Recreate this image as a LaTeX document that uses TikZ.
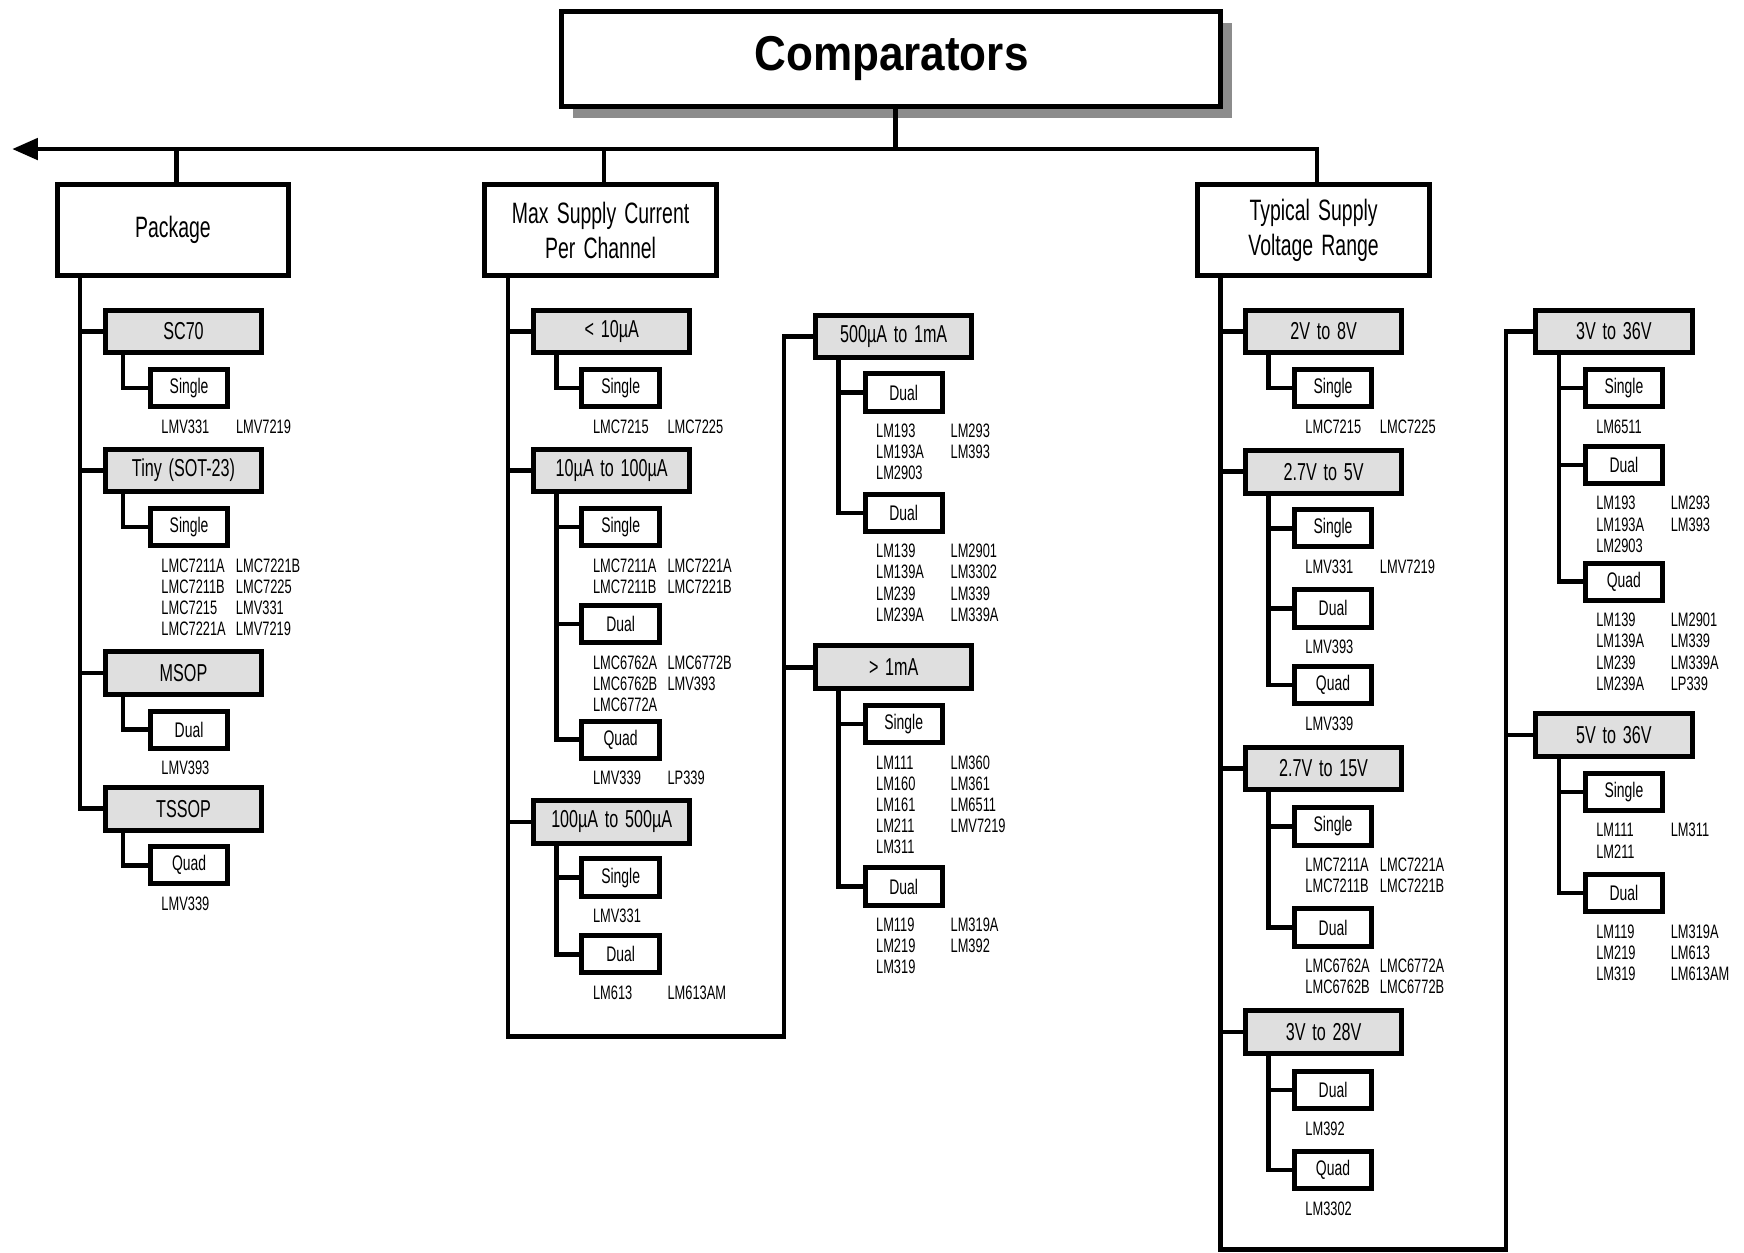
\documentclass[tikz,border=0pt]{standalone}
\usepackage{fontspec}
\setmainfont{Liberation Sans}[FakeStretch=0.66, WordSpace=1.5]
\newfontfamily\titlefont{Liberation Sans}[FakeStretch=0.9]
\usetikzlibrary{positioning}
\usetikzlibrary{shadows}
\usetikzlibrary{arrows.meta}

\newcommand{\partrows}[1]{\begin{tabular}{@{}p{67pt}@{}l@{}}#1\end{tabular}}

\tikzset{
  titlebox/.style={draw, line width=4.5pt, fill=white, minimum width=592.5pt, minimum height=85.5pt,
    drop shadow={shadow xshift=10pt, shadow yshift=-10pt, fill=black!45, opacity=1},
    font=\titlefont\bfseries\fontsize{44}{50}\selectfont},
  groupbox/.style={draw, line width=4.5pt, fill=white, minimum width=208.5pt, minimum height=81.5pt,
    align=center, font=\fontsize{26.5}{31}\selectfont},
  rangebox/.style={draw, line width=4.5pt, fill=gray!25, minimum width=140.5pt, minimum height=38.5pt,
    font=\fontsize{22}{24}\selectfont},
  kindbox/.style={draw, line width=4.5pt, fill=white, minimum width=69.5pt, minimum height=33.5pt,
    font=\fontsize{19}{22}\selectfont},
  partlist/.style={inner sep=0pt, font=\fontsize{17.5}{19}\selectfont},
  wire/.style={line width=4pt}
}

\begin{document}
\begin{tikzpicture}[x=1pt, y=-1pt]
  \useasboundingbox (0,0) rectangle (1568,1126);
  % Top
  \node[titlebox] (comp) at (801.5,53) {Comparators};
  \coordinate (bustip) at (11,134);
  \node[groupbox] (pkg) at (155.5,207) {Package};
  \node[groupbox] (maxcur) at (540,207) {Max Supply Current\\Per Channel};
  \node[groupbox] (typvolt) at (1181,207) {Typical Supply\\Voltage Range};
  \draw[wire, -{Triangle[length=23pt, width=19pt]}] ([xshift=3pt]typvolt.north) |- (bustip);
  \draw[wire] ([xshift=3.5pt]comp.south) -- ([xshift=3.5pt]comp.south |- bustip);
  \draw[wire] ([xshift=3pt]pkg.north) -- ([xshift=3pt]pkg.north |- bustip);
  \draw[wire] ([xshift=3pt]maxcur.north) -- ([xshift=3pt]maxcur.north |- bustip);

  % Package
  \node[rangebox] (sc70) at (165,298) {SC70};
  \node[kindbox] (sc70s) at (170,349) {Single};
  \node[partlist, below right=8pt and 12pt of sc70s.south west] (sc70p) {\partrows{LMV331 & LMV7219}};
  \node[rangebox] (tiny) at (165,423) {Tiny (SOT-23)};
  \node[kindbox] (tinys) at (170,474) {Single};
  \node[partlist, below right=8pt and 12pt of tinys.south west] (tinyp)
    {\partrows{LMC7211A & LMC7221B\\ LMC7211B & LMC7225\\ LMC7215 & LMV331\\ LMC7221A & LMV7219}};
  \node[rangebox] (msop) at (165,605) {MSOP};
  \node[kindbox] (msopd) at (170,656) {Dual};
  \node[partlist, below right=8pt and 12pt of msopd.south west] (msopp) {\partrows{LMV393}};
  \node[rangebox] (tssop) at (165,727) {TSSOP};
  \node[kindbox] (tssopq) at (170,778) {Quad};
  \node[partlist, below right=8pt and 12pt of tssopq.south west] (tssopp) {\partrows{LMV339}};

  \coordinate (pkgt) at ([xshift=23pt]pkg.south west);
  \draw[wire] (pkgt) |- (tssop.west);
  \draw[wire] (sc70.west) -- (sc70.west -| pkgt);
  \draw[wire] (tiny.west) -- (tiny.west -| pkgt);
  \draw[wire] (msop.west) -- (msop.west -| pkgt);
  \draw[wire] ([xshift=18pt]sc70.south west) |- (sc70s.west);
  \draw[wire] ([xshift=18pt]tiny.south west) |- (tinys.west);
  \draw[wire] ([xshift=18pt]msop.south west) |- (msopd.west);
  \draw[wire] ([xshift=18pt]tssop.south west) |- (tssopq.west);

  % Max supply current
  \node[rangebox] (ua10) at (550,298) {< 10µA};
  \node[kindbox] (ua10s) at (558,349) {Single};
  \node[partlist, below right=8pt and 12pt of ua10s.south west] (ua10p) {\partrows{LMC7215 & LMC7225}};
  \node[rangebox] (ua100) at (550,423) {10µA to 100µA};
  \node[kindbox] (ua100s) at (558,474) {Single};
  \node[partlist, below right=8pt and 12pt of ua100s.south west] (ua100sp)
    {\partrows{LMC7211A & LMC7221A\\ LMC7211B & LMC7221B}};
  \node[kindbox] (ua100d) at (558,561) {Dual};
  \node[partlist, below right=8pt and 12pt of ua100d.south west] (ua100dp)
    {\partrows{LMC6762A & LMC6772B\\ LMC6762B & LMV393\\ LMC6772A}};
  \node[kindbox] (ua100q) at (558,665) {Quad};
  \node[partlist, below right=8pt and 12pt of ua100q.south west] (ua100qp) {\partrows{LMV339 & LP339}};
  \node[rangebox] (ua500) at (550,739) {100µA to 500µA};
  \node[kindbox] (ua500s) at (558,789) {Single};
  \node[partlist, below right=8pt and 12pt of ua500s.south west] (ua500sp) {\partrows{LMV331}};
  \node[kindbox] (ua500d) at (558,858) {Dual};
  \node[partlist, below right=8pt and 12pt of ua500d.south west] (ua500dp) {\partrows{LM613 & LM613AM}};

  \node[rangebox] (ma1a) at (803.5,302.5) {500µA to 1mA};
  \node[kindbox] (ma1ad) at (812.5,353) {Dual};
  \node[partlist, below right=8pt and 12pt of ma1ad.south west] (ma1adp)
    {\partrows{LM193 & LM293\\ LM193A & LM393\\ LM2903}};
  \node[kindbox] (ma1ae) at (812.5,461) {Dual};
  \node[partlist, below right=8pt and 12pt of ma1ae.south west] (ma1aep)
    {\partrows{LM139 & LM2901\\ LM139A & LM3302\\ LM239 & LM339\\ LM239A & LM339A}};
  \node[rangebox] (ma1b) at (803.5,600) {> 1mA};
  \node[kindbox] (ma1bs) at (812.5,651) {Single};
  \node[partlist, below right=8pt and 12pt of ma1bs.south west] (ma1bsp)
    {\partrows{LM111 & LM360\\ LM160 & LM361\\ LM161 & LM6511\\ LM211 & LMV7219\\ LM311}};
  \node[kindbox] (ma1bd) at (812.5,797) {Dual};
  \node[partlist, below right=8pt and 12pt of ma1bd.south west] (ma1bdp)
    {\partrows{LM119 & LM319A\\ LM219 & LM392\\ LM319}};

  \coordinate (maxt) at ([xshift=23pt]maxcur.south west);
  \coordinate (maxbot) at (705,932);
  \draw[wire] (maxt) |- (maxbot) |- (ma1a.west);
  \draw[wire] (ua10.west) -- (ua10.west -| maxt);
  \draw[wire] (ua100.west) -- (ua100.west -| maxt);
  \draw[wire] (ua500.west) -- (ua500.west -| maxt);
  \draw[wire] (ma1b.west) -- (ma1b.west -| maxbot);
  \draw[wire] ([xshift=23pt]ua10.south west) |- (ua10s.west);
  \coordinate (ua100t) at ([xshift=23pt]ua100.south west);
  \draw[wire] (ua100t) |- (ua100q.west) (ua100s.west) -- (ua100s.west -| ua100t)
    (ua100d.west) -- (ua100d.west -| ua100t);
  \coordinate (ua500t) at ([xshift=23pt]ua500.south west);
  \draw[wire] (ua500t) |- (ua500d.west) (ua500s.west) -- (ua500s.west -| ua500t);
  \coordinate (ma1at) at ([xshift=23pt]ma1a.south west);
  \draw[wire] (ma1at) |- (ma1ae.west) (ma1ad.west) -- (ma1ad.west -| ma1at);
  \coordinate (ma1bt) at ([xshift=23pt]ma1b.south west);
  \draw[wire] (ma1bt) |- (ma1bd.west) (ma1bs.west) -- (ma1bs.west -| ma1bt);

  % Typical supply voltage
  \node[rangebox] (v8) at (1190,298) {2V to 8V};
  \node[kindbox] (v8s) at (1198.5,349) {Single};
  \node[partlist, below right=8pt and 12pt of v8s.south west] (v8p) {\partrows{LMC7215 & LMC7225}};
  \node[rangebox] (v5) at (1190,424) {2.7V to 5V};
  \node[kindbox] (v5s) at (1198.5,475) {Single};
  \node[partlist, below right=8pt and 12pt of v5s.south west] (v5sp) {\partrows{LMV331 & LMV7219}};
  \node[kindbox] (v5d) at (1198.5,547) {Dual};
  \node[partlist, below right=8pt and 12pt of v5d.south west] (v5dp) {\partrows{LMV393}};
  \node[kindbox] (v5q) at (1198.5,616) {Quad};
  \node[partlist, below right=8pt and 12pt of v5q.south west] (v5qp) {\partrows{LMV339}};
  \node[rangebox] (v15) at (1190,691) {2.7V to 15V};
  \node[kindbox] (v15s) at (1198.5,743) {Single};
  \node[partlist, below right=8pt and 12pt of v15s.south west] (v15sp)
    {\partrows{LMC7211A & LMC7221A\\ LMC7211B & LMC7221B}};
  \node[kindbox] (v15d) at (1198.5,834) {Dual};
  \node[partlist, below right=8pt and 12pt of v15d.south west] (v15dp)
    {\partrows{LMC6762A & LMC6772A\\ LMC6762B & LMC6772B}};
  \node[rangebox] (v28) at (1190,928) {3V to 28V};
  \node[kindbox] (v28d) at (1198.5,980) {Dual};
  \node[partlist, below right=8pt and 12pt of v28d.south west] (v28dp) {\partrows{LM392}};
  \node[kindbox] (v28q) at (1198.5,1052) {Quad};
  \node[partlist, below right=8pt and 12pt of v28q.south west] (v28qp) {\partrows{LM3302}};

  \node[rangebox] (v36a) at (1451,298) {3V to 36V};
  \node[kindbox] (v36as) at (1460,349) {Single};
  \node[partlist, below right=8pt and 12pt of v36as.south west] (v36asp) {\partrows{LM6511}};
  \node[kindbox] (v36ad) at (1460,418) {Dual};
  \node[partlist, below right=8pt and 12pt of v36ad.south west] (v36adp)
    {\partrows{LM193 & LM293\\ LM193A & LM393\\ LM2903}};
  \node[kindbox] (v36aq) at (1460,523) {Quad};
  \node[partlist, below right=8pt and 12pt of v36aq.south west] (v36aqp)
    {\partrows{LM139 & LM2901\\ LM139A & LM339\\ LM239 & LM339A\\ LM239A & LP339}};
  \node[rangebox] (v36b) at (1451,661) {5V to 36V};
  \node[kindbox] (v36bs) at (1460,712) {Single};
  \node[partlist, below right=8pt and 12pt of v36bs.south west] (v36bsp)
    {\partrows{LM111 & LM311\\ LM211}};
  \node[kindbox] (v36bd) at (1460,803) {Dual};
  \node[partlist, below right=8pt and 12pt of v36bd.south west] (v36bdp)
    {\partrows{LM119 & LM319A\\ LM219 & LM613\\ LM319 & LM613AM}};

  \coordinate (typt) at ([xshift=23pt]typvolt.south west);
  \coordinate (typbot) at (1354,1123.5);
  \draw[wire] (typt) |- (typbot) |- (v36a.west);
  \draw[wire] (v8.west) -- (v8.west -| typt);
  \draw[wire] (v5.west) -- (v5.west -| typt);
  \draw[wire] (v15.west) -- (v15.west -| typt);
  \draw[wire] (v28.west) -- (v28.west -| typt);
  \draw[wire] (v36b.west) -- (v36b.west -| typbot);
  \draw[wire] ([xshift=23pt]v8.south west) |- (v8s.west);
  \coordinate (v5t) at ([xshift=23pt]v5.south west);
  \draw[wire] (v5t) |- (v5q.west) (v5s.west) -- (v5s.west -| v5t) (v5d.west) -- (v5d.west -| v5t);
  \coordinate (v15t) at ([xshift=23pt]v15.south west);
  \draw[wire] (v15t) |- (v15d.west) (v15s.west) -- (v15s.west -| v15t);
  \coordinate (v28t) at ([xshift=23pt]v28.south west);
  \draw[wire] (v28t) |- (v28q.west) (v28d.west) -- (v28d.west -| v28t);
  \coordinate (v36at) at ([xshift=23pt]v36a.south west);
  \draw[wire] (v36at) |- (v36aq.west) (v36as.west) -- (v36as.west -| v36at)
    (v36ad.west) -- (v36ad.west -| v36at);
  \coordinate (v36bt) at ([xshift=23pt]v36b.south west);
  \draw[wire] (v36bt) |- (v36bd.west) (v36bs.west) -- (v36bs.west -| v36bt);
\end{tikzpicture}
\end{document}
